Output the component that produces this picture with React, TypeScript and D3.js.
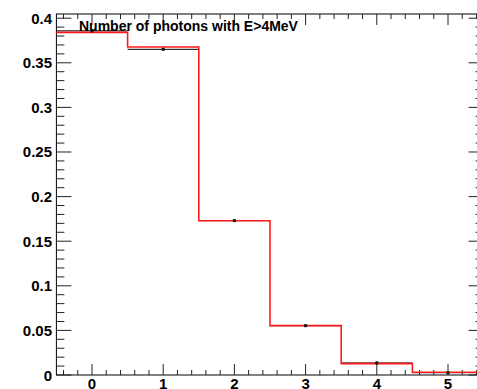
import React, { useEffect, useRef } from 'react';
import * as d3 from 'd3';

// bin centres (number of photons)
const binCenters = [0, 1, 2, 3, 4, 5];
// simulation (red step histogram)
const mcValues = [0.3841, 0.3677, 0.173, 0.0553, 0.0127, 0.003];
// measured data (black points with error bars)
const dataValues = [0.3858, 0.3651, 0.1731, 0.0553, 0.0135, 0.0026];
const dataErrors = [0.0008, 0.0008, 0.0006, 0.0005, 0.0018, 0.0008];
const yTickLabels = ['0', '0.05', '0.1', '0.15', '0.2', '0.25', '0.3', '0.35', '0.4'];
const xTickLabels = ['0', '1', '2', '3', '4', '5'];
const title = 'Number of photons with E>4MeV';

const App: React.FC = () => {
  const ref = useRef(null);

  useEffect(() => {
    if (!ref.current) return;
    const svg = d3.select(ref.current);
    svg.selectAll('*').remove();

    const font = "'Liberation Sans', Arial, Helvetica, sans-serif";
    const left = 56.4;
    const right = 483.6; // frame runs past the picture edge
    const top = 14;
    const bottom = 375;

    const x = d3.scaleLinear().domain([-0.5, 5.5]).range([left, right]);
    const y = d3.scaleLinear().domain([0, 0.4047]).range([bottom, top]);

    // frame
    svg
      .append('rect')
      .attr('x', left)
      .attr('y', top)
      .attr('width', right - left)
      .attr('height', bottom - top)
      .attr('fill', 'none')
      .attr('stroke', '#000')
      .attr('stroke-width', 1);

    const axes = svg.append('g').attr('stroke', '#222').attr('stroke-width', 1);

    // x ticks every 0.2, major at integers (bottom and top)
    const xTicks = d3.range(-0.4, 5.5, 0.2).map((v) => Math.round(v * 10) / 10);
    xTicks.forEach((v) => {
      const major = Math.abs(v - Math.round(v)) < 1e-6;
      const len = major ? 11 : 5;
      const px = x(v);
      axes.append('line').attr('x1', px).attr('x2', px).attr('y1', bottom).attr('y2', bottom - len);
      axes.append('line').attr('x1', px).attr('x2', px).attr('y1', top).attr('y2', top + len);
    });

    // y ticks every 0.01, major every 0.05 (left and right)
    const yTicks = d3.range(0, 0.405, 0.01).map((v) => Math.round(v * 100) / 100);
    yTicks.forEach((v, i) => {
      const major = i % 5 === 0;
      const len = major ? 15 : 8;
      const py = y(v);
      axes.append('line').attr('x1', left).attr('x2', left + len).attr('y1', py).attr('y2', py);
      axes.append('line').attr('x1', right).attr('x2', right - len).attr('y1', py).attr('y2', py);
    });

    // y labels
    svg
      .append('g')
      .selectAll('text')
      .data(yTickLabels)
      .enter()
      .append('text')
      .attr('x', 52)
      .attr('y', (d) => y(+d) + 5.5)
      .attr('text-anchor', 'end')
      .attr('font-family', font)
      .attr('font-weight', 'bold')
      .attr('font-size', 15)
      .text((d) => d);

    // x labels (cut by the bottom edge, as in the original)
    svg
      .append('g')
      .selectAll('text')
      .data(xTickLabels)
      .enter()
      .append('text')
      .attr('x', (d) => x(+d))
      .attr('y', 389)
      .attr('text-anchor', 'middle')
      .attr('font-family', font)
      .attr('font-weight', 'bold')
      .attr('font-size', 15)
      .text((d) => d);

    // data horizontal bars (bin width)
    svg
      .append('g')
      .selectAll('line')
      .data(binCenters)
      .enter()
      .append('line')
      .attr('x1', (d) => x(d - 0.5))
      .attr('x2', (d) => x(d + 0.5))
      .attr('y1', (d, i) => y(dataValues[i]))
      .attr('y2', (d, i) => y(dataValues[i]))
      .attr('stroke', '#000')
      .attr('stroke-width', 1);

    // simulation step histogram
    const stepPts: [number, number][] = binCenters.map((c, i) => [c - 0.5, mcValues[i]]);
    stepPts.push([5.5, mcValues[mcValues.length - 1]]);
    const step = d3
      .line<[number, number]>()
      .x((d) => x(d[0]))
      .y((d) => y(d[1]))
      .curve(d3.curveStepAfter);
    svg
      .append('path')
      .attr('d', step(stepPts))
      .attr('fill', 'none')
      .attr('stroke', '#ff1a1a')
      .attr('stroke-width', 1.6);

    // error bars and markers
    const pts = svg.append('g');
    binCenters.forEach((c, i) => {
      pts
        .append('line')
        .attr('x1', x(c))
        .attr('x2', x(c))
        .attr('y1', y(dataValues[i] - dataErrors[i]))
        .attr('y2', y(dataValues[i] + dataErrors[i]))
        .attr('stroke', '#000')
        .attr('stroke-width', 1);
      pts
        .append('rect')
        .attr('x', x(c) - 1.5)
        .attr('y', y(dataValues[i]) - 1.5)
        .attr('width', 3)
        .attr('height', 3)
        .attr('fill', '#111');
    });

    // title
    svg
      .append('text')
      .attr('x', 79)
      .attr('y', 30.5)
      .attr('font-family', font)
      .attr('font-weight', 'bold')
      .attr('font-size', 14)
      .attr('fill', '#000')
      .text(title);
  }, []);

  return (
    <svg
      ref={ref}
      width={477}
      height={389}
      style={{ position: 'absolute', left: 0, top: 0, background: '#fff' }}
    />
  );
};

export default App;
